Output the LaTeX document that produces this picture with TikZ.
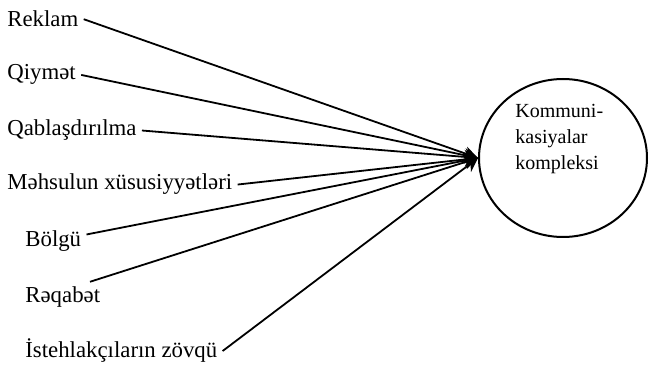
\documentclass[tikz,border=0pt]{standalone}
\usepackage{fontspec}
\setmainfont{Liberation Serif}
\usepackage{tikz}
\usetikzlibrary{arrows.meta,shapes.geometric}

\begin{document}
\begin{tikzpicture}[x=0.5pt, y=-0.5pt,
    factor/.style={inner sep=2.5pt, anchor=base west,
                   font=\fontsize{11.4}{13}\selectfont},
    hub/.style={ellipse, draw, line width=1pt,
                minimum width=84pt, minimum height=79pt, inner sep=0pt},
    arr/.style={-{Stealth[length=7pt,width=7pt]}, line width=0.9pt}
  ]
    \useasboundingbox (0,0) rectangle (649,368);
    \node[hub] (kom) at (563,158) {};
    \node[anchor=base west, inner sep=0pt, align=left,
          font=\fontsize{10}{13}\selectfont] (komtxt) at (515,170)
          {Kommuni-\\kasiyalar\\kompleksi};
    \node[factor] (rek) at (2,27)   {Reklam};
    \node[factor] (qiy) at (2,80)   {Qiymət};
    \node[factor] (qab) at (2,136)  {Qablaşdırılma};
    \node[factor] (mhs) at (2,190)  {Məhsulun xüsusiyyətləri};
    \node[factor] (bol) at (20,247) {Bölgü};
    \node[factor] (req) at (20,303) {Rəqabət};
    \node[factor] (ist) at (20,358) {İstehlakçıların zövqü};
    \foreach \f/\a in {rek/east,qiy/east,qab/east,mhs/east,bol/12,req/30,ist/east}
      \draw[arr] (\f.\a) -- (kom.west);
  \end{tikzpicture}
\end{document}
